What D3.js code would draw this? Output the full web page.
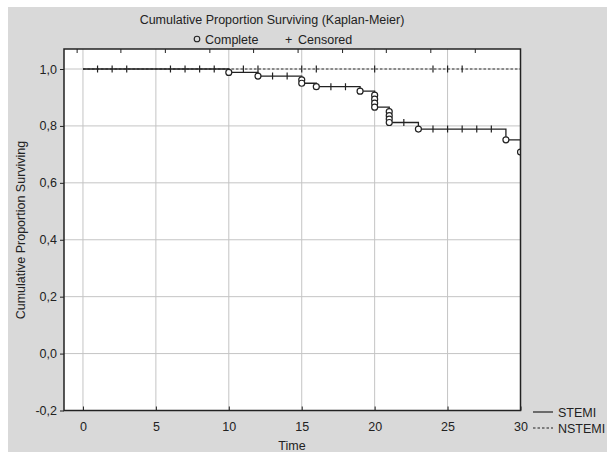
<!DOCTYPE html>
<html><head><meta charset="utf-8">
<script src="https://cdn.jsdelivr.net/npm/d3@7"></script>
<style>html,body{margin:0;padding:0;background:#fff;}svg{display:block;font-family:"Liberation Sans",Arial,sans-serif;}</style>
</head><body>
<svg id="c" width="607" height="452"></svg>
<script>
// ---- data ----
const xTicks = [0,5,10,15,20,25,30];
const yTicks = [-0.2,0,0.2,0.4,0.6,0.8,1.0];
const topTicks = [-0.4,2.6,5.65,8.7,11.7,14.75,17.8,20.8,23.85,26.9];
// STEMI step curve (time, survival)
const stemiTimes  = [0,10,12,15,16,19,20,21,23,29,30];
const stemiValues = [1.0,0.988,0.975,0.950,0.938,0.922,0.866,0.812,0.789,0.751,0.708];
// STEMI complete (event) circles
const stemiEventT = [10,12,15,15,16,19,20,20,20,20,21,21,21,21,23,29,30];
const stemiEventV = [0.988,0.975,0.962,0.950,0.938,0.922,0.908,0.894,0.880,0.866,0.850,0.836,0.824,0.812,0.789,0.751,0.708];
// STEMI censored
const stemiCensT = [13,14,17,18,22,24,25,26,27,28];
const stemiCensV = [0.975,0.975,0.938,0.938,0.812,0.789,0.789,0.789,0.789,0.789];
// NSTEMI
const nstemiTimes  = [0,30];
const nstemiValues = [1.0,1.0];
const nstemiCensT = [1,2,3,6,7,8,9,11,12,15,16,20,24,25,26];
const nstemiCensV = nstemiCensT.map(()=>1.0);

const fmt = v => d3.format(".1f")(v).replace("\u2212","-").replace(".", ",");

const svg = d3.select("#c");
// gray panel
svg.append("rect").attr("x",8).attr("y",7).attr("width",607-8).attr("height",452-7).attr("fill","#d9d9d9");

const L=64, R=520.5, T=49, B=410.5;
const x = d3.scaleLinear().domain([-1.3,30]).range([L,R]);
const y = d3.scaleLinear().domain([-0.2,1.0703]).range([B,T]);

svg.append("rect").attr("x",L).attr("y",T).attr("width",R-L).attr("height",B-T).attr("fill","#fff");

svg.append("defs").append("clipPath").attr("id","clip").append("rect")
  .attr("x",L).attr("y",T).attr("width",R-L).attr("height",B-T);

// grid
const g = svg.append("g");
g.selectAll(".vg").data(xTicks).join("line")
  .attr("x1",d=>x(d)).attr("x2",d=>x(d)).attr("y1",T).attr("y2",B)
  .attr("stroke","#c4c4c4").attr("stroke-width",1);
g.selectAll(".hg").data(yTicks).join("line")
  .attr("y1",d=>y(d)).attr("y2",d=>y(d)).attr("x1",L).attr("x2",R)
  .attr("stroke","#c4c4c4").attr("stroke-width",1);

// axes
const xAxis = d3.axisBottom(x).tickValues(xTicks).tickSize(-4).tickPadding(12).tickFormat(d3.format("d"));
const ax = svg.append("g").attr("transform",`translate(0,${B})`).call(xAxis);
ax.select(".domain").remove();
ax.selectAll("line").attr("stroke","#222");
ax.selectAll("text").attr("font-size",12.5).attr("fill","#222").attr("font-family","Liberation Sans, Arial, sans-serif");

const yAxis = d3.axisLeft(y).tickValues(yTicks).tickSize(4).tickPadding(3).tickFormat(fmt);
const ay = svg.append("g").attr("transform",`translate(${L},0)`).call(yAxis);
ay.select(".domain").remove();
ay.selectAll("line").attr("stroke","#222");
ay.selectAll("text").attr("font-size",12.5).attr("fill","#222").attr("font-family","Liberation Sans, Arial, sans-serif");

// top ticks
svg.append("g").selectAll("line").data(topTicks).join("line")
  .attr("x1",d=>x(d)).attr("x2",d=>x(d)).attr("y1",T).attr("y2",T+4)
  .attr("stroke","#222").attr("stroke-width",1);

// curves
const plot = svg.append("g").attr("clip-path","url(#clip)");
const stepLine = d3.line().x(d=>x(d[0])).y(d=>y(d[1])).curve(d3.curveStepAfter);
plot.append("path").datum(nstemiTimes.map((t,i)=>[t,nstemiValues[i]]))
  .attr("d",stepLine).attr("fill","none").attr("stroke","#333").attr("stroke-width",1.2).attr("stroke-dasharray","2.5,2");
plot.append("path").datum(stemiTimes.map((t,i)=>[t,stemiValues[i]]))
  .attr("d",stepLine).attr("fill","none").attr("stroke","#222").attr("stroke-width",1.3);

// censored marks
const cens = nstemiCensT.map((t,i)=>[t,nstemiCensV[i]]).concat(stemiCensT.map((t,i)=>[t,stemiCensV[i]]));
plot.selectAll(".cens").data(cens).join("line")
  .attr("x1",d=>x(d[0])).attr("x2",d=>x(d[0]))
  .attr("y1",d=>y(d[1])-3.5).attr("y2",d=>y(d[1])+3.5)
  .attr("stroke","#222").attr("stroke-width",1.2);

// event circles
plot.selectAll(".ev").data(stemiEventT.map((t,i)=>[t,stemiEventV[i]])).join("circle")
  .attr("cx",d=>x(d[0])).attr("cy",d=>y(d[1])).attr("r",3)
  .attr("fill","#fff").attr("stroke","#222").attr("stroke-width",1.2);

// frame
svg.append("rect").attr("x",L).attr("y",T).attr("width",R-L).attr("height",B-T)
  .attr("fill","none").attr("stroke","#222").attr("stroke-width",1.5);

// titles
svg.append("text").attr("x",272).attr("y",24).attr("text-anchor","middle")
  .attr("font-size",12.5).attr("fill","#222").text("Cumulative Proportion Surviving (Kaplan-Meier)");
const lg = svg.append("g");
lg.append("circle").attr("cx",197).attr("cy",39).attr("r",2.8).attr("fill","none").attr("stroke","#222").attr("stroke-width",1.1);
lg.append("text").attr("x",205).attr("y",43.5).attr("font-size",12.5).attr("fill","#222").text("Complete");
lg.append("text").attr("x",285).attr("y",43.5).attr("font-size",12.5).attr("fill","#222").text("+");
lg.append("text").attr("x",298).attr("y",43.5).attr("font-size",12.5).attr("fill","#222").text("Censored");

svg.append("text").attr("x",292).attr("y",450).attr("text-anchor","middle")
  .attr("font-size",12.5).attr("fill","#222").text("Time");
svg.append("text").attr("transform","translate(25,230) rotate(-90)").attr("text-anchor","middle")
  .attr("font-size",12.5).attr("fill","#222").text("Cumulative Proportion Surviving");

// bottom-right legend
const lg2 = svg.append("g");
lg2.append("line").attr("x1",533).attr("x2",553).attr("y1",412).attr("y2",412).attr("stroke","#222").attr("stroke-width",1.2);
lg2.append("line").attr("x1",533).attr("x2",553).attr("y1",428).attr("y2",428).attr("stroke","#222").attr("stroke-width",1.2).attr("stroke-dasharray","2.5,2");
lg2.append("text").attr("x",558).attr("y",416.5).attr("font-size",12.5).attr("fill","#222").text("STEMI");
lg2.append("text").attr("x",558).attr("y",432.5).attr("font-size",12.5).attr("fill","#222").text("NSTEMI");
</script>
</body></html>
